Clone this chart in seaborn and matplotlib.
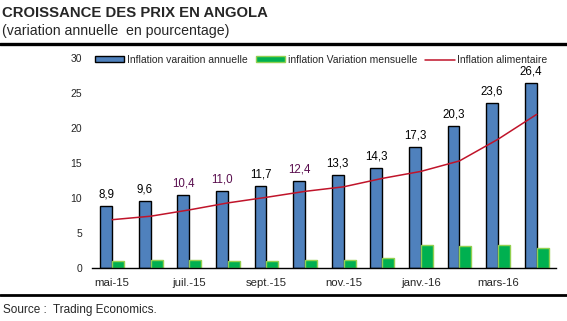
import numpy as np
import pandas as pd
import matplotlib
matplotlib.use("Agg")
import matplotlib.pyplot as plt
import seaborn as sns
from matplotlib.lines import Line2D
from matplotlib.patches import Patch

# ---- data ----
months = ["mai-15", "juin-15", "juil.-15", "août-15", "sept.-15", "oct.-15",
          "nov.-15", "déc.-15", "janv.-16", "févr.-16", "mars-16", "avr.-16"]
annual = [8.9, 9.6, 10.4, 11.0, 11.7, 12.4, 13.3, 14.3, 17.3, 20.3, 23.6, 26.4]
monthly = [1.0, 1.2, 1.2, 1.0, 1.0, 1.2, 1.2, 1.4, 3.3, 3.1, 3.3, 2.9]
food = [6.9, 7.4, 8.3, 9.3, 10.1, 10.95, 11.6, 12.8, 13.8, 15.3, 18.4, 21.95]
series_names = ["Inflation varaition annuelle", "inflation Variation mensuelle",
                "Inflation alimentaire"]
yticks = [0, 5, 10, 15, 20, 25, 30]

# ---- style ----
sns.set_theme(style="white")
plt.rcParams['font.family'] = ['Liberation Sans', 'DejaVu Sans']
BLUE = "#4F81BD"
GREEN = "#00B050"
GREEN_EDGE = "#92D050"
RED = "#C0142A"
PURPLE = "#5A0F4F"

W, H = 567, 321
fig = plt.figure(figsize=(W / 100, H / 100), dpi=100)
ax_l, ax_r, ax_b, ax_t = 92, 556, 268, 58
ax = fig.add_axes([ax_l / W, 1 - ax_b / H, (ax_r - ax_l) / W, (ax_b - ax_t) / H])

df = pd.DataFrame({
    "mois": months * 2,
    "valeur": annual + monthly,
    "serie": [series_names[0]] * len(months) + [series_names[1]] * len(months),
})
sns.barplot(data=df, x="mois", y="valeur", hue="serie", order=months,
            hue_order=series_names[:2], palette=[BLUE, GREEN], width=0.62,
            saturation=1, legend=False, ax=ax, errorbar=None)

for bar in ax.containers[0]:
    bar.set_edgecolor("black")
    bar.set_linewidth(1.0)
for bar in ax.containers[1]:
    bar.set_edgecolor(GREEN_EDGE)
    bar.set_linewidth(1.0)

sns.lineplot(x=np.arange(len(months)), y=food, color=RED, linewidth=1.1,
             ax=ax, sort=False)

purple_idx = {2, 3, 5}
for i, (bar, v) in enumerate(zip(ax.containers[0], annual)):
    txt = f"{v:.1f}".replace(".", ",")
    ax.annotate(txt, (bar.get_x() + bar.get_width() / 2, bar.get_height()),
                xytext=(0, 4), textcoords="offset points", ha="center",
                va="bottom", fontsize=8.3,
                color=PURPLE if i in purple_idx else "black")

ax.set_xlim(-0.52, 11.5)
ax.set_ylim(0, 30)
ax.set_yticks(yticks)
ax.set_yticklabels([str(t) for t in yticks], fontsize=7.5)
tick_pos = list(range(0, len(months), 2))
ax.set_xticks(tick_pos)
ax.set_xticklabels([months[i] for i in tick_pos], fontsize=8.2)
ax.tick_params(axis="y", length=0, pad=7)
ax.tick_params(axis="x", length=0, pad=7)
ax.set_xlabel("")
ax.set_ylabel("")
for s in ["left", "top", "right"]:
    ax.spines[s].set_visible(False)
ax.spines["bottom"].set_color("black")
ax.spines["bottom"].set_linewidth(1.0)
ax.grid(False)

handles = [Patch(facecolor=BLUE, edgecolor="black", linewidth=1.0),
           Patch(facecolor=GREEN, edgecolor=GREEN_EDGE, linewidth=1.0),
           Line2D([0], [0], color=RED, linewidth=1.1)]
ax.legend(handles, series_names, loc="center left",
          bbox_to_anchor=(3 / (ax_r - ax_l), 1 - 2 / (ax_b - ax_t)),
          ncol=3, frameon=False, fontsize=7.5, borderpad=0, borderaxespad=0,
          handlelength=2.8, handleheight=0.5, handletextpad=0.25,
          columnspacing=0.8)

# ---- titles and rules ----
fig.text(2 / W, 1 - 13 / H, "CROISSANCE DES PRIX EN ANGOLA", fontsize=10.7,
         fontweight="bold", va="center", ha="left")
fig.text(2 / W, 1 - 31.5 / H, "(variation annuelle  en pourcentage)",
         fontsize=10.2, va="center", ha="left")
fig.add_artist(Line2D([0, 1], [1 - 43.5 / H, 1 - 43.5 / H], color="black",
                      linewidth=2.4, transform=fig.transFigure))
fig.add_artist(Line2D([0, 1], [1 - 295 / H, 1 - 295 / H], color="black",
                      linewidth=2.0, transform=fig.transFigure))
fig.text(3 / W, 1 - 310 / H, "Source :  Trading Economics.", fontsize=8.5,
         va="center", ha="left")

fig.savefig("out.png", dpi=100)
